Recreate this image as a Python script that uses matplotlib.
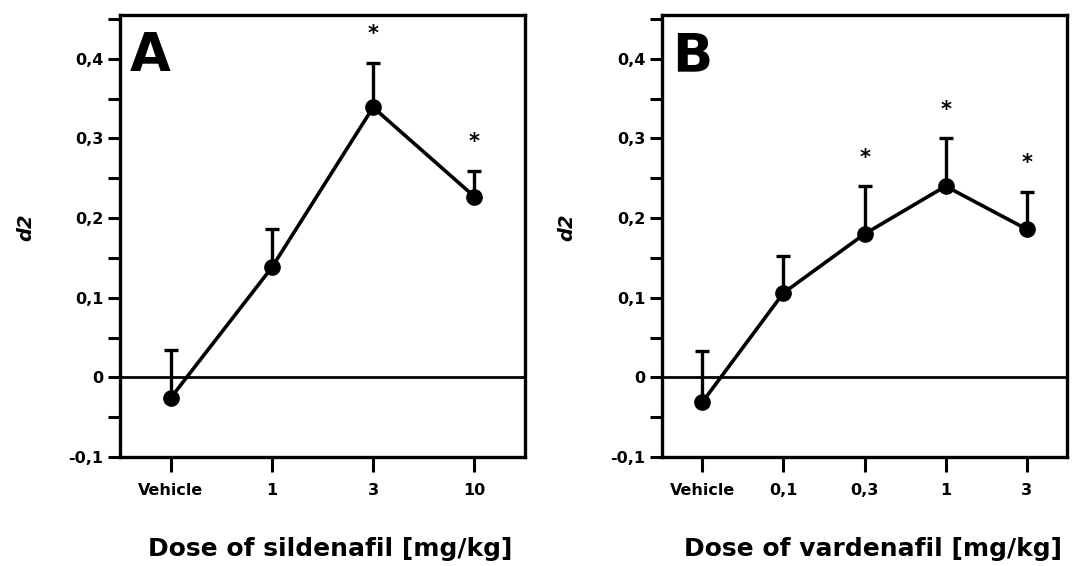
import numpy as np
import matplotlib
matplotlib.use("Agg")
import matplotlib.pyplot as plt
from matplotlib.ticker import MultipleLocator, FuncFormatter

plt.rcParams['font.family'] = ['DejaVu Sans']
plt.rcParams['font.weight'] = 'bold'
plt.rcParams['axes.labelweight'] = 'bold'

# panel A - sildenafil
doses_a = ['Vehicle', '1', '3', '10']
mean_a = [-0.026, 0.138, 0.339, 0.227]
sem_a = [0.060, 0.048, 0.056, 0.032]
sig_a = [False, False, True, True]

# panel B - vardenafil
doses_b = ['Vehicle', '0,1', '0,3', '1', '3']
mean_b = [-0.031, 0.106, 0.180, 0.240, 0.186]
sem_b = [0.064, 0.046, 0.060, 0.060, 0.047]
sig_b = [False, False, True, True, True]


def fmt(v, pos):
    if abs(v) < 1e-9:
        return '0'
    return ('%.1f' % v).replace('.', ',')


def panel(ax, doses, mean, sem, sig, letter, xlabel):
    x = np.arange(len(doses))
    ax.errorbar(x, mean, yerr=[np.zeros(len(sem)), sem], fmt='none',
                ecolor='black', elinewidth=2.4, capsize=5, capthick=2.4, zorder=2)
    ax.plot(x, mean, color='black', lw=2.6, marker='o', markersize=11, zorder=3)
    ax.axhline(0, color='black', lw=2, zorder=1)
    for xi, m, s, star in zip(x, mean, sem, sig):
        if star:
            ax.text(xi, m + s + 0.036, '*', ha='center', va='center', fontsize=15)
    ax.set_xlim(-0.5, len(doses) - 0.5)
    ax.set_ylim(-0.1, 0.455)
    ax.set_xticks(x)
    ax.set_xticklabels(doses, fontsize=11.5)
    ax.yaxis.set_major_locator(MultipleLocator(0.1))
    ax.yaxis.set_minor_locator(MultipleLocator(0.05))
    ax.yaxis.set_major_formatter(FuncFormatter(fmt))
    ax.tick_params(axis='y', which='both', length=9, width=2.2, labelsize=11.5, pad=3)
    ax.tick_params(axis='x', length=11, width=2.2, pad=8)
    for s in ax.spines.values():
        s.set_linewidth(2.4)
    ax.set_xlabel(xlabel, fontsize=18)
    ax.xaxis.set_label_coords(0.52, -0.18)
    ax.set_ylabel('d2', fontsize=14, style='italic')
    ax.yaxis.set_label_coords(-0.21, 0.52)
    ax.text(0.025, 0.965, letter, transform=ax.transAxes, fontsize=38,
            fontweight='heavy', ha='left', va='top')


fig = plt.figure(figsize=(10.78, 5.66), dpi=100)
ax_a = fig.add_axes([0.1113, 0.1926, 0.3757, 0.781])
ax_b = fig.add_axes([0.614, 0.1926, 0.376, 0.781])

panel(ax_a, doses_a, mean_a, sem_a, sig_a, 'A', 'Dose of sildenafil [mg/kg]')
panel(ax_b, doses_b, mean_b, sem_b, sig_b, 'B', 'Dose of vardenafil [mg/kg]')

fig.savefig('out.png', dpi=100)
